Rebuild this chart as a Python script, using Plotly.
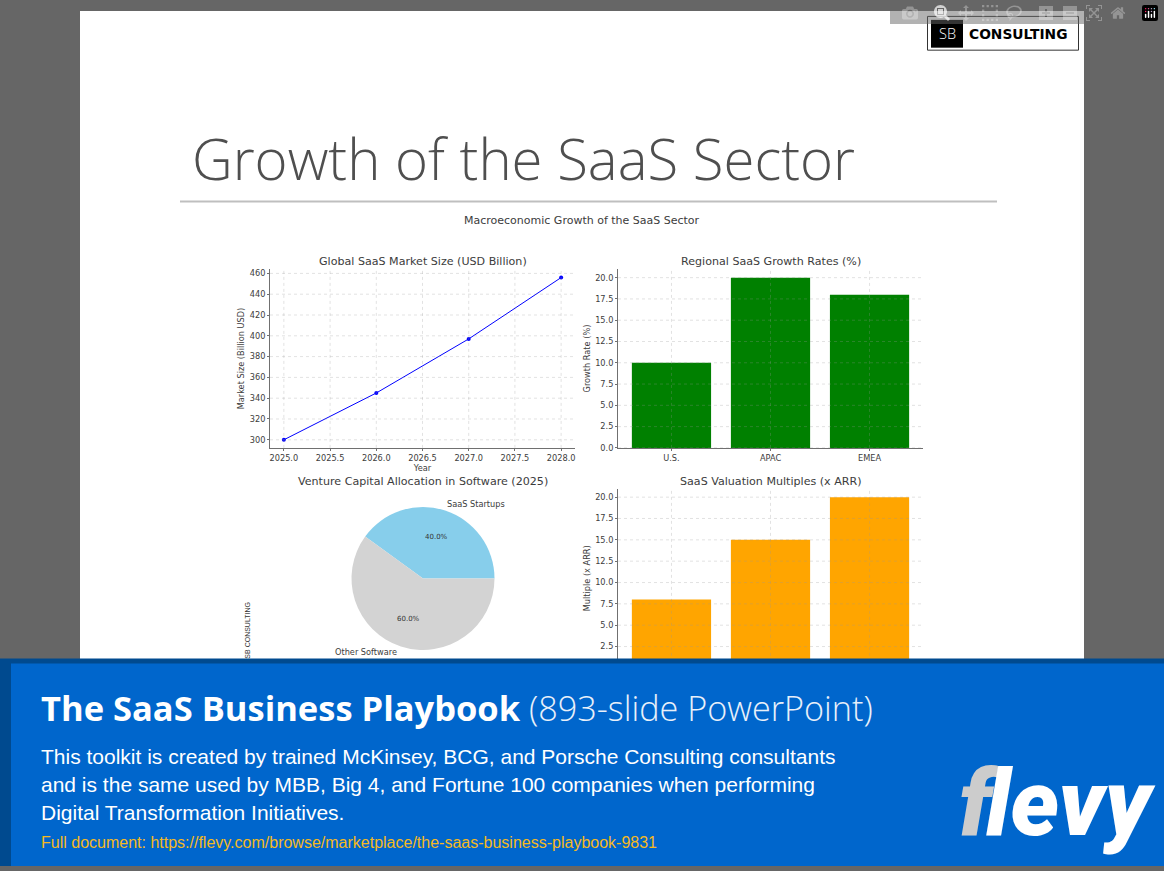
import plotly.graph_objects as go

W, H = 1164, 871

# data
years = [2025, 2026, 2027, 2028]
market_size = [300, 345, 397, 456]
year_ticks = [2025.0, 2025.5, 2026.0, 2026.5, 2027.0, 2027.5, 2028.0]
market_ticks = [300, 320, 340, 360, 380, 400, 420, 440, 460]

regions = ['U.S.', 'APAC', 'EMEA']
growth_rates = [10, 20, 18]
multiples = [8, 15, 20]
bar_ticks = [0.0, 2.5, 5.0, 7.5, 10.0, 12.5, 15.0, 17.5, 20.0]

vc_labels = ['SaaS Startups', 'Other Software']
vc_share = [40, 60]

DARK = '#3c3c3c'
GRID = 'rgba(150,150,150,0.4)'
CHART_FONT = 'DejaVu Sans'
SMALL = 8.2


def xdom(a, b):
    return [a / W, b / W]


def ydom(top, bottom):
    return [1 - bottom / H, 1 - top / H]


def axis(**kw):
    base = dict(showline=True, linecolor='#707070', linewidth=1, ticks='outside', ticklen=2,
                tickcolor='#707070', tickwidth=0.7, zeroline=False, showgrid=False,
                tickfont=dict(family=CHART_FONT, size=SMALL, color=DARK))
    base.update(kw)
    return base


def axis_title(s, standoff):
    return dict(text=s, standoff=standoff, font=dict(family=CHART_FONT, size=SMALL, color=DARK))


def text(x, y, s, size, color=DARK, family=CHART_FONT, anchor='center', angle=0, **font_kw):
    fig.add_annotation(xref='paper', yref='paper', x=x / W, y=1 - y / H, text=s, showarrow=False,
                       xanchor=anchor, yanchor='middle', textangle=angle, borderpad=0,
                       font=dict(family=family, size=size, color=color, **font_kw))


def rect(x0, y0, x1, y1, fill, line=None, layer='above', lw=1):
    fig.add_shape(type='rect', xref='paper', yref='paper', x0=x0 / W, x1=x1 / W, y0=1 - y0 / H, y1=1 - y1 / H,
                  fillcolor=fill, line=dict(color=line, width=lw) if line else dict(width=0), layer=layer)


def grid_lines(xname, yname, xvals, yvals):
    # matplotlib draws the grid over the bars, plotly would put it under them
    for v in xvals:
        fig.add_shape(type='line', xref=xname, yref=yname + ' domain', x0=v, x1=v, y0=0, y1=1,
                      line=dict(color=GRID, width=0.7, dash='dot'), layer='above')
    for v in yvals:
        fig.add_shape(type='line', xref=xname + ' domain', yref=yname, x0=0, x1=1, y0=v, y1=v,
                      line=dict(color=GRID, width=0.7, dash='dot'), layer='above')


fig = go.Figure()

fig.add_trace(go.Scatter(x=years, y=market_size, mode='lines+markers', xaxis='x', yaxis='y',
                         line=dict(color='#0000FF', width=1), marker=dict(color='#0000FF', size=4)))
fig.add_trace(go.Bar(x=regions, y=growth_rates, xaxis='x2', yaxis='y2', marker=dict(color='#008000', line=dict(width=0)),
                     width=0.8))
fig.add_trace(go.Bar(x=regions, y=multiples, xaxis='x3', yaxis='y3', marker=dict(color='#FFA500', line=dict(width=0)),
                     width=0.8))
# first slice has to end at 3 o'clock, so start it 144 degrees back from there
fig.add_trace(go.Pie(labels=vc_labels, values=vc_share, sort=False, direction='clockwise', rotation=-54,
                     marker=dict(colors=['#87CEEB', '#D3D3D3'], line=dict(width=0)), textinfo='none',
                     domain=dict(x=xdom(351, 495), y=ydom(509.5, 653.5))))

fig.update_layout(
    width=W, height=H, autosize=False, showlegend=False,
    margin=dict(l=0, r=0, t=0, b=0),
    paper_bgcolor='#666666', plot_bgcolor='rgba(0,0,0,0)',
    xaxis=axis(domain=xdom(270, 575), range=[2024.85, 2028.15], anchor='y', tickvals=year_ticks,
               ticktext=['%.1f' % v for v in year_ticks], title=axis_title('Year', 2)),
    yaxis=axis(domain=ydom(270, 450), range=[292.2, 464.1], anchor='x', tickvals=market_ticks,
               title=axis_title('Market Size (Billion USD)', 3)),
    xaxis2=axis(domain=xdom(618, 923), range=[-0.54, 2.54], anchor='y2'),
    yaxis2=axis(domain=ydom(270, 450), range=[0, 21], anchor='x2', tickvals=bar_ticks,
                ticktext=['%.1f' % v for v in bar_ticks], title=axis_title('Growth Rate (%)', 3)),
    xaxis3=axis(domain=xdom(618, 923), range=[-0.54, 2.54], anchor='y3'),
    yaxis3=axis(domain=ydom(491, 671.5), range=[0, 21], anchor='x3', tickvals=bar_ticks,
                ticktext=['%.1f' % v for v in bar_ticks], title=axis_title('Multiple (x ARR)', 3)),
)

# slide
rect(80, 10, 1084, 670, '#FFFFFF', layer='below')
grid_lines('x', 'y', year_ticks, market_ticks)
grid_lines('x2', 'y2', [0, 1, 2], bar_ticks)
grid_lines('x3', 'y3', [0, 1, 2], bar_ticks)
fig.add_shape(type='line', xref='paper', yref='paper', x0=180 / W, x1=997 / W, y0=1 - 202 / H, y1=1 - 202 / H,
              line=dict(color='#BFBFBF', width=2), layer='below')

# logo top right
rect(927.5, 15.5, 1078.5, 49.5, '#FFFFFF', line='#333333', layer='below')
rect(931, 19, 963, 47, '#000000', layer='below')
text(947, 33, 'SB', 14.5, color='#FFFFFF', family='Open Sans', weight=300)
text(1018, 33, '<b>CONSULTING</b>', 13.8, color='#000000', family='DejaVu Sans')

text(523, 158, 'Growth of the SaaS Sector', 56.3, color='#4f4f4f', family='Open Sans', weight=300)
text(582, 221, 'Macroeconomic Growth of the SaaS Sector', 11)
text(422.7, 262, 'Global SaaS Market Size (USD Billion)', 11.1)
text(770.7, 262, 'Regional SaaS Growth Rates (%)', 11.1)
text(422.7, 484, 'Venture Capital Allocation in Software (2025)', 11.1)
text(770.7, 484, 'SaaS Valuation Multiples (x ARR)', 11.1)

# pie labels
text(476, 506, vc_labels[0], SMALL)
text(366, 656, vc_labels[1], SMALL)
text(436, 540, '%.1f%%' % vc_share[0], 7, color='#333333')
text(409, 622, '%.1f%%' % vc_share[1], 7, color='#333333')
text(248, 634, 'SB CONSULTING', 7, color='#333333', family='Liberation Sans', angle=-90)

# banner
rect(0, 662, W, H, '#004A8F')
rect(11, 667, W, H, '#0066CC')
text(40, 711, '<b>The SaaS Business Playbook</b>', 34.5, color='#FFFFFF', family='Open Sans', anchor='left')
text(528, 711, '(893-slide PowerPoint)', 34.2, color='#E8F0FA', family='Open Sans', anchor='left', weight=300)
body = dict(color='#FFFFFF', family='Liberation Sans', anchor='left')
text(40, 761, 'This toolkit is created by trained McKinsey, BCG, and Porsche Consulting consultants', 21, **body)
text(40, 789, 'and is the same used by MBB, Big 4, and Fortune 100 companies when performing', 21, **body)
text(40, 817, 'Digital Transformation Initiatives.', 21, **body)
text(40, 847, 'Full document: https://flevy.com/browse/marketplace/the-saas-business-playbook-9831', 16,
     color='#F5B921', family='Liberation Sans', anchor='left')

# flevy wordmark
mark = dict(family='Roboto', anchor='left', weight=900, style='italic')
text(958, 808, 'f', 92, color='#CCCCCC', **mark)
text(985, 808, 'levy', 92, color='#FFFFFF', **mark)

fig.write_html('out.html', post_script="document.body.style.margin='0'")
